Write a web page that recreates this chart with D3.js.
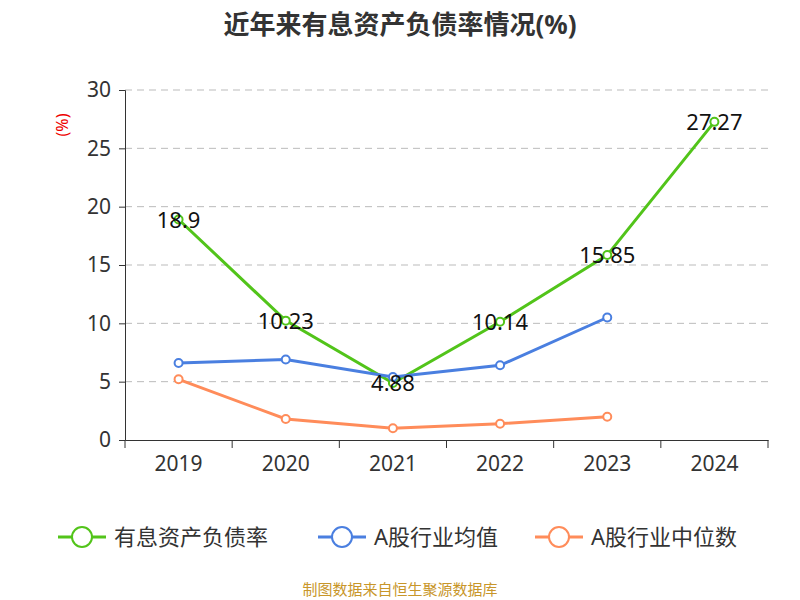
<!DOCTYPE html><html><head><meta charset="utf-8"><script src="https://cdn.jsdelivr.net/npm/d3@7"></script>
<style>body{margin:0;background:#fff}text{font-family:"Noto Sans","Noto Sans CJK SC",sans-serif}</style></head><body>
<svg id="c" width="800" height="600"></svg>
<script>
const years=["2019","2020","2021","2022","2023","2024"];
const company=[18.9,10.23,4.88,10.14,15.85,27.27];
const industryAvg=[6.6,6.9,5.4,6.4,10.5];
const industryMed=[5.2,1.8,1.0,1.4,2.0];
const yTicks=[0,5,10,15,20,25,30];
const seriesNames=["有息资产负债率","A股行业均值","A股行业中位数"];
const colors=["#52c41a","#4a7fe0","#ff8c5a"];
const svg=d3.select("#c");
const x=d3.scaleBand().domain(years).range([125,768]);
const y=d3.scaleLinear().domain([0,30]).range([440,90]);
svg.append("text").attr("x",400).attr("y",34).attr("text-anchor","middle").attr("font-size",26).attr("font-weight","bold").attr("fill","#333").text("近年来有息资产负债率情况(%)");
svg.append("g").selectAll("line").data(yTicks.slice(1)).join("line").attr("x1",125).attr("x2",768).attr("y1",d=>y(d)).attr("y2",d=>y(d)).attr("stroke","#bbb").attr("stroke-dasharray","7,5");
const ya=svg.append("g").attr("transform","translate(125,0)").call(d3.axisLeft(y).tickValues(yTicks).tickSize(6).tickPadding(8));
ya.selectAll("text").attr("font-size",21).attr("fill","#333");ya.selectAll("line,path").attr("stroke","#333");
const xa=svg.append("g").attr("transform","translate(0,440)").call(d3.axisBottom(x).tickSize(0).tickPadding(16));
xa.selectAll("text").attr("font-size",21).attr("fill","#333");xa.select("path").attr("stroke","#333");
xa.selectAll(".b").data([...years.map(d=>x(d)),768]).join("line").attr("x1",d=>d).attr("x2",d=>d).attr("y1",0).attr("y2",8).attr("stroke","#333");
svg.append("text").attr("transform","translate(68,125) rotate(-90)").attr("text-anchor","middle").attr("font-size",16).attr("fill","#e00").text("(%)");
const cx=d=>x(d)+x.bandwidth()/2;
[company,industryAvg,industryMed].forEach((s,i)=>{
 const pts=s.map((v,j)=>[cx(years[j]),y(v)]);
 svg.append("path").attr("d",d3.line()(pts)).attr("fill","none").attr("stroke",colors[i]).attr("stroke-width",3);
 svg.append("g").selectAll("circle").data(pts).join("circle").attr("cx",d=>d[0]).attr("cy",d=>d[1]).attr("r",4).attr("fill","#fff").attr("stroke",colors[i]).attr("stroke-width",2);
});
svg.append("g").selectAll("text").data(company).join("text").attr("x",(d,j)=>cx(years[j])).attr("y",d=>y(d)+8).attr("text-anchor","middle").attr("font-size",22).attr("fill","#111").text(d=>d);
const lx=[58,318,535];
seriesNames.forEach((n,i)=>{
 const g=svg.append("g").attr("transform",`translate(${lx[i]},537)`);
 g.append("line").attr("x1",0).attr("x2",48).attr("stroke",colors[i]).attr("stroke-width",3);
 g.append("circle").attr("cx",24).attr("r",10).attr("fill","#fff").attr("stroke",colors[i]).attr("stroke-width",2);
 g.append("text").attr("x",56).attr("y",8).attr("font-size",22).attr("fill","#333").text(n);
});
svg.append("text").attr("x",400).attr("y",595).attr("text-anchor","middle").attr("font-size",15).attr("fill","#c8962a").text("制图数据来自恒生聚源数据库");
</script></body></html>
